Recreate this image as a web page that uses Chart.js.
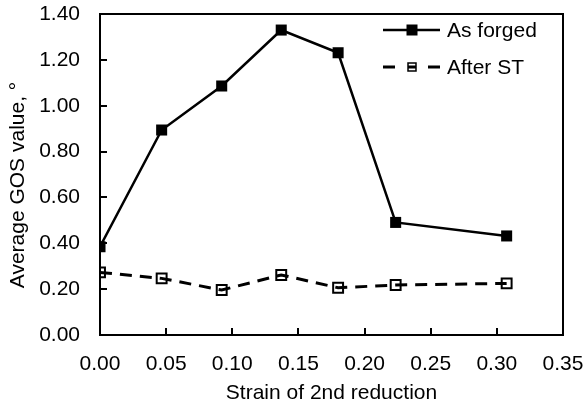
<!DOCTYPE html>
<html>
<head>
<meta charset="utf-8">
<script src="https://cdn.jsdelivr.net/npm/chart.js@4.4.0/dist/chart.umd.min.js"></script>
<style>
  html, body { margin: 0; padding: 0; background: #fff; }
  #wrap { width: 586px; height: 409px; }
</style>
</head>
<body>
<div id="wrap"><canvas id="c" width="586" height="409"></canvas></div>
<script>
// strain of 2nd reduction
const strain = [0, 0.0466, 0.092, 0.137, 0.180, 0.2235, 0.3074];
// average GOS value (deg)
const asForged = [0.385, 0.894, 1.086, 1.330, 1.231, 0.491, 0.432];
const afterST = [0.273, 0.247, 0.196, 0.262, 0.206, 0.218, 0.225];
const seriesNames = ['As forged', 'After ST'];
const xTitle = 'Strain of 2nd reduction';
const yTitle = 'Average GOS value, \u00B0';

const FONT = 'Liberation Sans';
const FSIZE = 21;

function toPoints(xs, ys) {
    let pts = [];
    for (let i = 0; i < xs.length; i++) {
        pts.push({x: xs[i], y: ys[i]});
    }
    return pts;
}

// box around plot, inward tick marks, y title, legend inside the plot
const decor = {
    id: 'decor',
    afterDraw(chart) {
        const ctx = chart.ctx;
        const a = chart.chartArea;
        const xs = chart.scales.x, ys = chart.scales.y;
        const L = Math.round(a.left), R = Math.round(a.right);
        const T = Math.round(a.top), B = Math.round(a.bottom);
        ctx.save();
        ctx.setLineDash([]);
        ctx.strokeStyle = '#000000';
        ctx.lineWidth = 2;
        ctx.beginPath();
        ctx.rect(L, T, R - L, B - T);
        ctx.stroke();
        ctx.beginPath();
        for (let t of xs.ticks) {
            const px = Math.round(xs.getPixelForValue(t.value));
            ctx.moveTo(px, B);
            ctx.lineTo(px, B - 7);
        }
        for (let t of ys.ticks) {
            const py = Math.round(ys.getPixelForValue(t.value));
            ctx.moveTo(L, py);
            ctx.lineTo(L + 7, py);
        }
        ctx.stroke();

        ctx.font = FSIZE + 'px "' + FONT + '"';
        ctx.fillStyle = '#000000';

        // y axis title
        ctx.save();
        ctx.translate(18, 185);
        ctx.rotate(-Math.PI / 2);
        ctx.textAlign = 'center';
        ctx.textBaseline = 'middle';
        ctx.fillText(yTitle, 0, 0);
        ctx.restore();

        // legend
        const lx1 = 383, lx2 = 440, mx = 412;
        const rows = [30, 67];
        ctx.textBaseline = 'middle';
        // As forged
        ctx.lineWidth = 2.5;
        ctx.beginPath();
        ctx.moveTo(lx1, rows[0]);
        ctx.lineTo(lx2, rows[0]);
        ctx.stroke();
        ctx.fillRect(mx - 5.5, rows[0] - 5.5, 11, 11);
        ctx.fillText(seriesNames[0], 447, rows[0] + 1);
        // After ST
        ctx.lineWidth = 3;
        ctx.beginPath();
        ctx.moveTo(lx1, rows[1]);
        ctx.lineTo(lx1 + 12, rows[1]);
        ctx.moveTo(lx2 - 12, rows[1]);
        ctx.lineTo(lx2, rows[1]);
        ctx.moveTo(mx - 4, rows[1]);
        ctx.lineTo(mx + 4, rows[1]);
        ctx.stroke();
        ctx.lineWidth = 1.5;
        ctx.beginPath();
        ctx.rect(mx - 4, rows[1] - 4, 8, 8);
        ctx.stroke();
        ctx.fillText(seriesNames[1], 447, rows[1] + 1);
        ctx.restore();
    }
};

new Chart(document.getElementById('c'), {
    type: 'scatter',
    data: {
        datasets: [
            {
                label: seriesNames[0],
                data: toPoints(strain, asForged),
                showLine: true,
                borderColor: '#000',
                borderWidth: 2.5,
                pointStyle: 'rect',
                pointRadius: 7.8,
                pointHoverRadius: 7.8,
                pointBackgroundColor: '#000',
                pointBorderWidth: 0
            },
            {
                label: seriesNames[1],
                data: toPoints(strain, afterST),
                showLine: true,
                borderColor: '#000',
                borderWidth: 3,
                borderDash: [12, 8],
                pointStyle: 'rect',
                pointRadius: 7,
                pointHoverRadius: 7,
                pointBackgroundColor: 'rgba(0,0,0,0)',
                pointBorderColor: '#000',
                pointBorderWidth: 2
            }
        ]
    },
    options: {
        responsive: false,
        animation: false,
        layout: {padding: {top: 14, right: 23, left: 0, bottom: 0}},
        plugins: {
            legend: {display: false},
            tooltip: {enabled: false}
        },
        scales: {
            x: {
                type: 'linear',
                min: 0,
                max: 0.35,
                afterFit: (s) => {
                    s.height = 74;
                    s.paddingLeft = 0;
                    s.paddingRight = 0;
                },
                grid: {display: false, drawTicks: false},
                border: {display: false},
                ticks: {
                    stepSize: 0.05,
                    padding: 17,
                    color: '#000',
                    font: {family: FONT, size: FSIZE},
                    callback: (v) => v.toFixed(2)
                },
                title: {
                    display: true,
                    text: xTitle,
                    color: '#000',
                    font: {family: FONT, size: FSIZE},
                    padding: {top: 4, bottom: 3}
                }
            },
            y: {
                min: 0,
                max: 1.4,
                afterFit: (s) => {
                    s.width = 100;
                    s.paddingTop = 0;
                    s.paddingBottom = 0;
                },
                grid: {display: false, drawTicks: false},
                border: {display: false},
                ticks: {
                    stepSize: 0.2,
                    padding: 20,
                    color: '#000',
                    font: {family: FONT, size: FSIZE},
                    callback: (v) => v.toFixed(2)
                },
                title: {display: false}
            }
        }
    },
    plugins: [decor]
});
</script>
</body>
</html>
